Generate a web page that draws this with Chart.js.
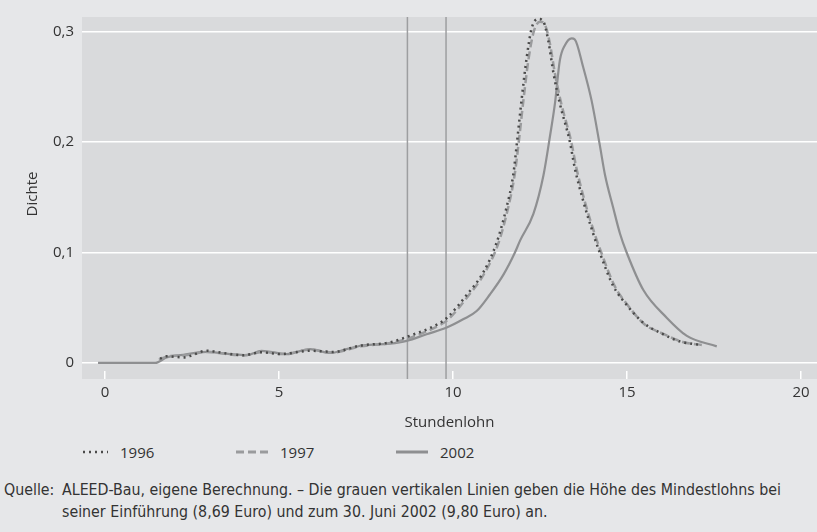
<!DOCTYPE html>
<html lang="de">
<head>
<meta charset="utf-8">
<title>Dichte Stundenlohn</title>
<script src="https://cdn.jsdelivr.net/npm/chart.js@4.4.1/dist/chart.umd.min.js"></script>
<style>
    body { margin: 0; background: #e6e7e9; }
    #wrap { position: relative; width: 817px; height: 532px; overflow: hidden; font-family: "Open Sans", sans-serif; color: #333; }
    #chartBox { position: absolute; left: 0; top: 0; width: 817px; height: 440px; }
    .legend { position: absolute; top: 441px; height: 22px; display: flex; align-items: center; font-size: 15px; }
    .legend svg { margin-right: 12px; }
    .quelle { position: absolute; left: 0; top: 479px; width: 817px; font-family: "DejaVu Sans Condensed", sans-serif; font-size: 15.8px; line-height: 22px; color: #333; }
    .quelle .lbl { position: absolute; left: 4px; top: 0; }
    .quelle .txt { position: absolute; left: 62px; top: 0; width: 755px; white-space: nowrap; }
</style>
</head>
<body>
<div id="wrap">
    <div id="chartBox"><canvas id="dichteChart"></canvas></div>

    <div class="legend" style="left:82px">
        <svg width="26" height="4"><line x1="1" y1="2" x2="26" y2="2" stroke="#4a4a4a" stroke-width="2.5" stroke-dasharray="2 4"/></svg>1996
    </div>
    <div class="legend" style="left:236px">
        <svg width="32" height="4"><line x1="0" y1="2" x2="32" y2="2" stroke="#9a9b9d" stroke-width="3" stroke-dasharray="8 4"/></svg>1997
    </div>
    <div class="legend" style="left:396px">
        <svg width="32" height="4"><line x1="0" y1="2" x2="32" y2="2" stroke="#8e8f91" stroke-width="3"/></svg>2002
    </div>

    <div class="quelle">
        <span class="lbl">Quelle:</span>
        <span class="txt">ALEED-Bau, eigene Berechnung. – Die grauen vertikalen Linien geben die Höhe des Mindestlohns bei<br>seiner Einführung (8,69 Euro) und zum 30. Juni 2002 (9,80 Euro) an.</span>
    </div>
</div>

<script>
// Stundenlohn (Euro) und geschätzte Dichte je Jahr
const lohn1996 = [1.58, 1.77, 2.25, 2.92, 3.4, 3.97, 4.5, 5.03, 5.89, 6.56, 7.33, 8.19, 8.67, 9.58, 9.82, 10.39, 10.87, 11.25, 11.54, 11.73, 11.85, 11.97, 12.12, 12.26, 12.45, 12.6, 12.74, 12.89, 13.07, 13.36, 13.5, 13.74, 14.03, 14.22, 14.6, 14.99, 15.47, 15.95, 16.52, 17.1];
const dichte1996 = [0.004, 0.006, 0.005, 0.011, 0.009, 0.007, 0.0097, 0.008, 0.011, 0.010, 0.0157, 0.0186, 0.0236, 0.0354, 0.0407, 0.0614, 0.082, 0.1086, 0.141, 0.170, 0.203, 0.238, 0.277, 0.303, 0.3115, 0.309, 0.2915, 0.262, 0.235, 0.200, 0.1765, 0.147, 0.117, 0.0997, 0.070, 0.0526, 0.0363, 0.0274, 0.0195, 0.0163];

const lohn1997 = [1.55, 1.8, 2.3, 2.95, 3.5, 4.0, 4.55, 5.1, 5.9, 6.55, 7.35, 8.2, 8.7, 9.6, 9.85, 10.42, 10.9, 11.3, 11.58, 11.77, 11.9, 12.02, 12.17, 12.32, 12.5, 12.63, 12.78, 12.93, 13.11, 13.4, 13.55, 13.78, 14.07, 14.26, 14.64, 15.03, 15.5, 16.0, 16.6, 17.2];
const dichte1997 = [0.003, 0.006, 0.007, 0.010, 0.008, 0.007, 0.010, 0.008, 0.012, 0.0095, 0.015, 0.018, 0.022, 0.034, 0.039, 0.060, 0.081, 0.108, 0.140, 0.170, 0.203, 0.237, 0.275, 0.300, 0.309, 0.307, 0.290, 0.262, 0.235, 0.200, 0.176, 0.147, 0.117, 0.100, 0.070, 0.052, 0.035, 0.027, 0.019, 0.016];

const lohn2002 = [-0.2, 1.45, 1.77, 2.16, 2.92, 3.59, 4.07, 4.5, 5.22, 5.89, 6.47, 6.94, 7.42, 8.19, 8.67, 9.24, 9.82, 10.29, 10.68, 11.06, 11.45, 11.78, 11.93, 12.31, 12.6, 12.79, 12.93, 13.07, 13.22, 13.41, 13.5, 13.74, 13.98, 14.22, 14.37, 14.6, 14.8, 14.99, 15.47, 16.14, 16.72, 17.58];
const dichte2002 = [0, 0, 0.005, 0.007, 0.010, 0.008, 0.007, 0.011, 0.008, 0.0125, 0.009, 0.0125, 0.016, 0.0175, 0.020, 0.026, 0.032, 0.0395, 0.047, 0.062, 0.080, 0.100, 0.111, 0.135, 0.170, 0.206, 0.235, 0.274, 0.288, 0.294, 0.293, 0.268, 0.238, 0.197, 0.170, 0.141, 0.117, 0.100, 0.066, 0.041, 0.0245, 0.015];

// Mindestlohn: Einführung und 30. Juni 2002
const mindestlohn = [8.69, 9.80];

const xTicks = [0, 5, 10, 15, 20];
const yTicks = [0, 0.1, 0.2, 0.3];

function punkte(xs, ys) {
    return xs.map((x, i) => ({ x: x, y: ys[i] }));
}

// grauer Hintergrund der Zeichenfläche (etwas unter die Achse gezogen)
const hintergrund = {
    id: 'hintergrund',
    beforeDraw(chart) {
        const { ctx, chartArea } = chart;
        ctx.save();
        ctx.fillStyle = '#d9dadc';
        ctx.fillRect(chartArea.left, chartArea.top, chartArea.right - chartArea.left, chartArea.bottom - chartArea.top + 8);
        ctx.restore();
    }
};

// senkrechte Linien für den Mindestlohn
const mindestLinien = {
    id: 'mindestLinien',
    beforeDatasetsDraw(chart) {
        const { ctx, chartArea, scales } = chart;
        ctx.save();
        ctx.strokeStyle = '#9d9ea0';
        ctx.lineWidth = 1.5;
        mindestlohn.forEach(v => {
            const px = scales.x.getPixelForValue(v);
            ctx.beginPath();
            ctx.moveTo(px, chartArea.top);
            ctx.lineTo(px, chartArea.bottom + 8);
            ctx.stroke();
        });
        ctx.restore();
    }
};

const schrift = { family: '"Open Sans", sans-serif', size: 15 };

new Chart(document.getElementById('dichteChart'), {
    type: 'line',
    data: {
        datasets: [
            {
                label: '1996',
                data: punkte(lohn1996, dichte1996),
                borderColor: '#4a4a4a',
                borderWidth: 2.5,
                borderDash: [2, 4],
                pointRadius: 0,
                cubicInterpolationMode: 'monotone'
            },
            {
                label: '1997',
                data: punkte(lohn1997, dichte1997),
                borderColor: '#9a9b9d',
                borderWidth: 2.5,
                borderDash: [8, 4],
                pointRadius: 0,
                cubicInterpolationMode: 'monotone'
            },
            {
                label: '2002',
                data: punkte(lohn2002, dichte2002),
                borderColor: '#8e8f91',
                borderWidth: 2.2,
                pointRadius: 0,
                cubicInterpolationMode: 'monotone'
            }
        ]
    },
    options: {
        responsive: true,
        maintainAspectRatio: false,
        animation: false,
        layout: { padding: { top: 8, right: 0, bottom: 0, left: 0 } },
        plugins: {
            legend: { display: false },
            tooltip: { enabled: false }
        },
        scales: {
            x: {
                type: 'linear',
                min: -0.661,
                max: 20.46,
                afterBuildTicks: s => { s.ticks = xTicks.map(v => ({ value: v })); },
                afterFit: s => { s.height = 69; },
                grid: { drawOnChartArea: false, drawTicks: true, tickLength: 8, color: '#ffffff', lineWidth: 1.5 },
                border: { display: false },
                ticks: { padding: 5, color: '#333', font: schrift },
                title: { display: true, text: 'Stundenlohn', color: '#333', font: schrift, padding: { top: 0, bottom: 8 } }
            },
            y: {
                min: -0.0073,
                max: 0.3133,
                afterBuildTicks: s => { s.ticks = yTicks.map(v => ({ value: v })); },
                afterFit: s => { s.width = 82; },
                grid: { drawTicks: false, color: '#ffffff', lineWidth: 1.5 },
                border: { display: false },
                ticks: {
                    padding: 8,
                    color: '#333',
                    font: schrift,
                    callback: v => String(v).replace('.', ',')
                },
                title: { display: true, text: 'Dichte', color: '#333', font: schrift, padding: { top: 24, bottom: 0 } }
            }
        }
    },
    plugins: [hintergrund, mindestLinien]
});
</script>
</body>
</html>
